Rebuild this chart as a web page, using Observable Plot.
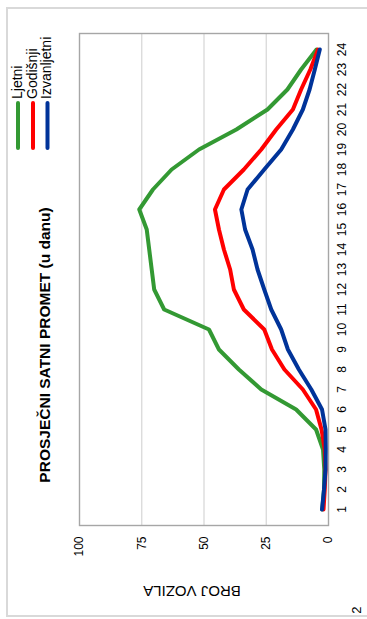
<!DOCTYPE html>
<html>
<head>
<meta charset="utf-8">
<script src="https://cdn.jsdelivr.net/npm/d3@7"></script>
<script src="https://cdn.jsdelivr.net/npm/@observablehq/plot@0.6"></script>
<style>
  html, body { margin: 0; padding: 0; background: #fff; overflow: hidden; }
  #wrap { position: absolute; left: 0; top: 0; width: 619px; height: 367px;
          transform-origin: 0 0; transform: translate(0, 619px) rotate(-90deg); }
  #wrap > svg { position: absolute; left: 0; top: 0; }
  #frame { position: absolute; left: 2px; top: 6px; width: 610px; height: 400px;
           border: 2px solid #d9d9d9; border-bottom: none; box-sizing: border-box; }
</style>
</head>
<body>
<div id="wrap"><div id="frame"></div></div>
<script>
const title = "PROSJEČNI SATNI PROMET (u danu)";
const yLabel = "BROJ VOZILA";
const pageNumber = "2";
const hours = [1,2,3,4,5,6,7,8,9,10,11,12,13,14,15,16,17,18,19,20,21,22,23,24];
const seriesNames = ["Ljetni", "Godišnji", "Izvanljetni"];
const seriesColors = ["#339933", "#ff0000", "#003399"];
const ljetni      = [2.5, 1.8, 1.7, 2.2, 5, 13, 27, 36, 44, 48, 66, 70, 71, 72, 73, 76, 70.5, 63, 52, 37, 24.5, 16.5, 11, 4.8];
const godisnji    = [2, 1.5, 1.2, 1.5, 2.8, 5, 10.3, 17.7, 22.7, 25.8, 34, 38, 39.5, 42, 44, 45.6, 42, 34, 27, 21, 14.3, 11, 7.3, 4.2];
const izvanljetni = [2.6, 1.8, 1.2, 1.1, 1.2, 2.6, 6.9, 11.9, 16.3, 19, 23, 25.8, 28.5, 30.5, 33.5, 35, 32.5, 25.8, 19, 14.3, 10.3, 7.6, 5.5, 3.5];
const yTicks = [0, 25, 50, 75, 100];

const seriesValues = [ljetni, godisnji, izvanljetni];
const data = seriesNames.flatMap((s, i) => hours.map((h, j) => ({series: s, hour: h, value: seriesValues[i][j]})));

const font = "'Liberation Sans', Arial, sans-serif";
const W = 619, H = 367;

const chart = Plot.plot({
  width: W, height: H,
  marginLeft: 93, marginRight: 34, marginTop: 79, marginBottom: 39,
  style: {fontFamily: font, fontSize: "12px", color: "#000", background: "transparent", overflow: "visible"},
  x: {type: "point", domain: hours, padding: 0.5},
  y: {domain: [0, 100]},
  color: {domain: seriesNames, range: seriesColors},
  marks: [
    Plot.ruleY(yTicks.filter(v => v > 0 && v < 100), {stroke: "#d9d9d9", strokeWidth: 1.3}),
    Plot.frame({stroke: "#a6a6a6", strokeWidth: 1.4}),
    Plot.axisX({tickSize: 0, tickPadding: 9, label: null, fontSize: 12}),
    Plot.axisY({ticks: yTicks, tickSize: 0, tickPadding: 11, label: null, fontSize: 12}),
    Plot.line(data, {x: "hour", y: "value", z: "series", stroke: "series", strokeWidth: 4,
                     strokeLinejoin: "round", strokeLinecap: "round"})
  ]
});
document.getElementById("wrap").appendChild(chart);

// overlay: title, legend, axis label, page number
const svg = d3.select("#wrap").append("svg").attr("width", W).attr("height", H)
  .style("font-family", font).style("overflow", "visible");

svg.append("text").attr("x", 274).attr("y", 46)
  .attr("text-anchor", "middle").attr("dominant-baseline", "middle")
  .attr("font-weight", "bold").attr("font-size", 15.5).attr("fill", "#000").text(title);

const legendW = [18, 33, 47.5];
seriesNames.forEach((s, i) => {
  svg.append("line").attr("x1", 471).attr("x2", 516).attr("y1", legendW[i]).attr("y2", legendW[i])
    .attr("stroke", seriesColors[i]).attr("stroke-width", 4).attr("stroke-linecap", "round");
  svg.append("text").attr("x", 520).attr("y", legendW[i])
    .attr("dominant-baseline", "middle").attr("font-size", 14).attr("fill", "#000").text(s);
});

svg.append("text").attr("transform", "translate(29,192) rotate(-90)")
  .attr("text-anchor", "middle").attr("dominant-baseline", "middle")
  .attr("font-size", 15).attr("fill", "#000").text(yLabel);

svg.append("text").attr("x", 9).attr("y", 358)
  .attr("text-anchor", "middle").attr("dominant-baseline", "middle")
  .attr("font-size", 13).attr("fill", "#000").text(pageNumber);
</script>
</body>
</html>
